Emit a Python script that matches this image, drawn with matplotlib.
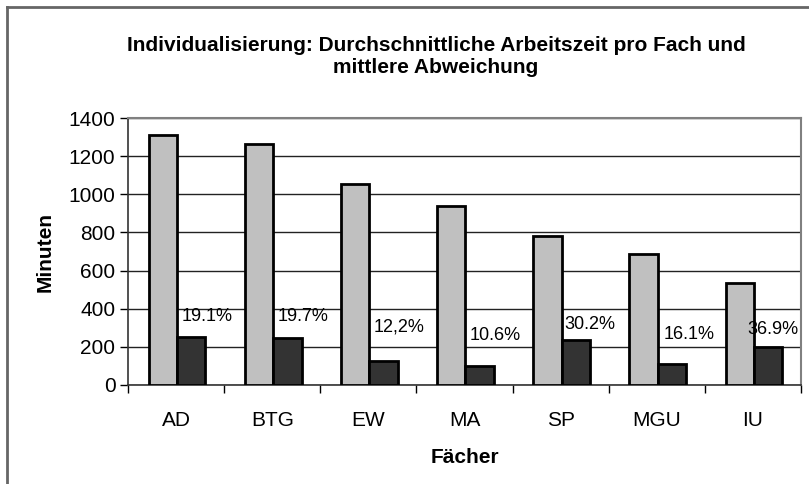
import numpy as np
import matplotlib.pyplot as plt
from matplotlib.lines import Line2D

# --- Daten ---
faecher = ["AD", "BTG", "EW", "MA", "SP", "MGU", "IU"]
arbeitszeit = [1310, 1262, 1052, 940, 780, 685, 537]
abweichung = [250, 248, 128, 100, 236, 110, 198]
prozent = ["19.1%", "19.7%", "12,2%", "10.6%", "30.2%", "16.1%", "36.9%"]
# Lage der Beschriftungen (Punkte über dem dunklen Balken, x-Versatz)
label_dy = [15, 15, 24, 22, 11, 21, 13]
label_dx = [3, 3, 3, 3, 2, 4, -5]

plt.rcParams["font.family"] = ["Liberation Sans", "DejaVu Sans"]

fig = plt.figure(figsize=(8.09, 4.84), dpi=100)
ax = fig.add_axes([128 / 809, 1 - 385 / 484, 673 / 809, 267 / 484])

x = np.arange(len(faecher))
w = 0.295

ax.bar(x - w / 2 + 0.01, arbeitszeit, width=w, color="#c0c0c0",
       edgecolor="black", linewidth=2.0, zorder=3)
ax.bar(x + w / 2 + 0.01, abweichung, width=w, color="#333333",
       edgecolor="black", linewidth=2.0, zorder=3)

for i, txt in enumerate(prozent):
    ax.annotate(txt, (x[i] + 0.01, abweichung[i]), xytext=(label_dx[i], label_dy[i]),
                textcoords="offset points", ha="left", va="center",
                fontsize=13, zorder=4)

ax.set_xlim(-0.5, len(faecher) - 0.5)
ax.set_ylim(0, 1400)
ax.set_yticks(range(0, 1401, 200))
ax.yaxis.grid(True, color="#222222", linewidth=1.0, zorder=0)

# Kategorien mittig, Ticks zwischen den Kategorien
ax.set_xticks(x)
ax.set_xticklabels(faecher, fontsize=15)
ax.set_xticks(np.arange(-0.5, len(faecher)), minor=True)
ax.tick_params(axis="x", which="major", length=0, pad=19)
ax.tick_params(axis="x", which="minor", length=6, width=1, direction="out")
ax.tick_params(axis="y", length=6, width=1, labelsize=15, pad=3)

for s in ["top", "right"]:
    ax.spines[s].set_color("#808080")
    ax.spines[s].set_linewidth(1.5)
for s in ["left", "bottom"]:
    ax.spines[s].set_color("#333333")
    ax.spines[s].set_linewidth(1.2)

ax.set_ylabel("Minuten", fontsize=15, fontweight="bold", labelpad=10)
ax.set_xlabel("Fächer", fontsize=15, fontweight="bold", labelpad=13)

fig.text(0.539, 0.884, "Individualisierung: Durchschnittliche Arbeitszeit pro Fach und\nmittlere Abweichung",
         ha="center", va="center", fontsize=15, fontweight="bold", linespacing=1.2)

# Rahmen des Diagramms (oben und links sichtbar)
fig.add_artist(Line2D([6.5 / 809, 1], [1 - 6.5 / 484] * 2, color="#666666", linewidth=2))
fig.add_artist(Line2D([6.5 / 809] * 2, [0, 1 - 6.5 / 484], color="#666666", linewidth=2))

plt.savefig("out.png", dpi=100)
plt.close()
